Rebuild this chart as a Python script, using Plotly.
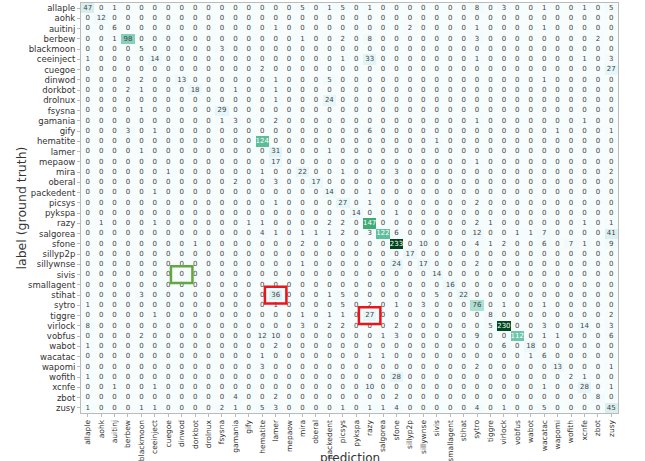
import plotly.graph_objects as go

labels = ["allaple", "aohk", "auitinj", "berbew", "blackmoon", "ceeinject", "cuegoe",
          "dinwod", "dorkbot", "drolnux", "fsysna", "gamania", "gify", "hematite",
          "lamer", "mepaow", "mira", "oberal", "packedent", "picsys", "pykspa", "razy",
          "salgorea", "sfone", "sillyp2p", "sillywnse", "sivis", "smallagent", "stihat",
          "sytro", "tiggre", "virlock", "vobfus", "wabot", "wacatac", "wapomi", "wofith",
          "xcnfe", "zbot", "zusy"]

# non-zero counts: true label -> {predicted label: count}
nonzero = {
    "allaple": {"allaple": 47, "auitinj": 1, "mira": 5, "packedent": 1, "picsys": 5, "razy": 1,
                "sytro": 8, "virlock": 3, "wacatac": 1, "xcnfe": 1, "zusy": 5},
    "aohk": {"aohk": 12},
    "auitinj": {"auitinj": 6, "lamer": 1, "sillyp2p": 2, "sytro": 1, "wacatac": 1},
    "berbew": {"auitinj": 1, "berbew": 98, "mira": 1, "picsys": 2, "razy": 8, "sytro": 3, "zbot": 2},
    "blackmoon": {"blackmoon": 5, "fsysna": 3},
    "ceeinject": {"allaple": 1, "ceeinject": 14, "picsys": 1, "razy": 33, "sytro": 1, "xcnfe": 1, "zusy": 3},
    "cuegoe": {"hematite": 2, "zusy": 27},
    "dinwod": {"blackmoon": 2, "dinwod": 13, "lamer": 1, "packedent": 5, "wacatac": 1},
    "dorkbot": {"berbew": 2, "blackmoon": 1, "dorkbot": 18, "gamania": 1, "lamer": 1},
    "drolnux": {"lamer": 1, "packedent": 24},
    "fsysna": {"blackmoon": 1, "fsysna": 29},
    "gamania": {"fsysna": 1, "gamania": 3, "lamer": 2, "sytro": 1, "xcnfe": 1},
    "gify": {"berbew": 3, "ceeinject": 1, "razy": 6, "wapomi": 1, "zusy": 1},
    "hematite": {"hematite": 124, "sivis": 1},
    "lamer": {"blackmoon": 1, "lamer": 31, "packedent": 1},
    "mepaow": {"lamer": 17, "sytro": 1},
    "mira": {"cuegoe": 1, "hematite": 1, "mira": 22, "picsys": 1, "sfone": 3, "zusy": 2},
    "oberal": {"gamania": 2, "lamer": 3, "oberal": 17},
    "packedent": {"ceeinject": 1, "packedent": 14, "razy": 1},
    "picsys": {"lamer": 1, "picsys": 27, "razy": 1, "sytro": 2},
    "pykspa": {"pykspa": 14, "sfone": 1},
    "razy": {"aohk": 1, "ceeinject": 1, "gify": 1, "hematite": 1, "packedent": 2, "picsys": 2,
             "razy": 147, "sytro": 2, "tiggre": 1, "xcnfe": 1, "zusy": 1},
    "salgorea": {"hematite": 4, "lamer": 1, "mira": 1, "oberal": 1, "packedent": 1, "picsys": 2,
                 "razy": 3, "salgorea": 122, "sfone": 6, "sytro": 12, "vobfus": 1, "wabot": 1,
                 "wacatac": 7, "zusy": 41},
    "sfone": {"dorkbot": 1, "mira": 2, "sfone": 233, "sillywnse": 10, "sytro": 4, "tiggre": 1,
              "virlock": 2, "wacatac": 6, "wofith": 7, "xcnfe": 1, "zusy": 9},
    "sillyp2p": {"sillyp2p": 17},
    "sillywnse": {"mira": 1, "sfone": 24, "sillywnse": 17, "sytro": 2},
    "sivis": {"sivis": 14},
    "smallagent": {"smallagent": 16},
    "stihat": {"blackmoon": 3, "lamer": 36, "packedent": 1, "picsys": 5, "sivis": 5, "stihat": 22},
    "sytro": {"allaple": 1, "lamer": 1, "picsys": 5, "razy": 2, "sfone": 1, "sillywnse": 3,
              "sytro": 76, "virlock": 1, "wacatac": 1},
    "tiggre": {"ceeinject": 1, "mira": 1, "packedent": 1, "picsys": 1, "razy": 27, "tiggre": 8, "zusy": 2},
    "virlock": {"allaple": 8, "mira": 3, "packedent": 2, "picsys": 2, "sfone": 2, "tiggre": 5,
                "virlock": 230, "wacatac": 3, "xcnfe": 14, "zusy": 3},
    "vobfus": {"blackmoon": 2, "hematite": 12, "lamer": 10, "salgorea": 1, "sfone": 3, "sytro": 9,
               "vobfus": 112, "wacatac": 1, "wapomi": 1, "zusy": 6},
    "wabot": {"allaple": 1, "lamer": 2, "virlock": 6, "wabot": 18},
    "wacatac": {"hematite": 1, "razy": 1, "salgorea": 1, "wabot": 1, "wacatac": 6},
    "wapomi": {"hematite": 3, "sytro": 2, "wapomi": 13, "zusy": 1},
    "wofith": {"allaple": 1, "sfone": 28, "wofith": 2, "xcnfe": 1},
    "xcnfe": {"auitinj": 1, "ceeinject": 1, "razy": 10, "wacatac": 1, "xcnfe": 28, "zusy": 1},
    "zbot": {"gamania": 4, "lamer": 2, "sfone": 2, "zbot": 8},
    "zusy": {"allaple": 1, "blackmoon": 1, "ceeinject": 1, "fsysna": 2, "gamania": 1, "hematite": 5,
             "lamer": 3, "picsys": 1, "razy": 1, "salgorea": 1, "sfone": 4, "sytro": 4,
             "virlock": 1, "wacatac": 5, "zusy": 45},
}

# highlighted cells: (true label, predicted label, colour)
highlights = [("sivis", "dinwod", "#62a83e"), ("stihat", "lamer", "#e8161b"), ("tiggre", "razy", "#e8161b")]

matrix = [[nonzero.get(t, {}).get(p, 0) for p in labels] for t in labels]
zmax = max(max(r) for r in matrix)

fig = go.Figure()
fig.add_trace(go.Heatmap(
    z=matrix, x=labels, y=labels, colorscale="BuGn", zmin=0, zmax=zmax,
    showscale=False, xgap=0, ygap=0,
))

tx, ty, tt, tc = [], [], [], []
for i, t in enumerate(labels):
    for j, p in enumerate(labels):
        v = matrix[i][j]
        tx.append(p); ty.append(t); tt.append(str(v))
        tc.append("#ffffff" if v > 110 else "#444444")
fig.add_trace(go.Scatter(
    x=tx, y=ty, mode="text", text=tt,
    textfont=dict(family="DejaVu Sans", size=7, color=tc),
    hoverinfo="skip", showlegend=False,
))

idx = {n: k for k, n in enumerate(labels)}
for t, p, col in highlights:
    fig.add_shape(type="rect", xref="x", yref="y",
                  x0=idx[p] - 0.8, x1=idx[p] + 0.8, y0=idx[t] - 0.82, y1=idx[t] + 0.82,
                  line=dict(color=col, width=2.5))

fig.add_annotation(text="prediction", xref="paper", yref="paper", x=0.5, y=-0.11,
                   xanchor="center", yanchor="middle", showarrow=False,
                   font=dict(size=12, color="#333333"))

fig.update_layout(
    template="none",
    width=645, height=461,
    margin=dict(l=81, r=27, t=3, b=48),
    paper_bgcolor="white", plot_bgcolor="white",
    font=dict(family="DejaVu Sans", color="#333333"),
    showlegend=False,
)
fig.update_xaxes(
    type="category", tickmode="array", tickvals=labels, ticktext=labels,
    tickangle=-90, tickfont=dict(size=7.5, color="#333333"),
    showgrid=False, zeroline=False, showline=True, mirror=True, linecolor="#bbbbbb", linewidth=1,
    ticks="outside", ticklen=3, tickcolor="#bbbbbb", range=[-0.5, 39.5], automargin=False,
)
fig.update_yaxes(
    type="category", tickmode="array", tickvals=labels, ticktext=labels,
    autorange=False, range=[39.5, -0.5],
    tickfont=dict(size=8.5, color="#333333"),
    title=dict(text="label (ground truth)", font=dict(size=12.5, color="#333333")),
    showgrid=False, zeroline=False, showline=True, mirror=True, linecolor="#bbbbbb", linewidth=1,
    ticks="outside", ticklen=3, tickcolor="#bbbbbb", automargin=False,
)

fig.write_html("out.html", config={"displayModeBar": False},
               post_script="document.body.style.margin='0px';document.body.style.overflow='hidden';")
